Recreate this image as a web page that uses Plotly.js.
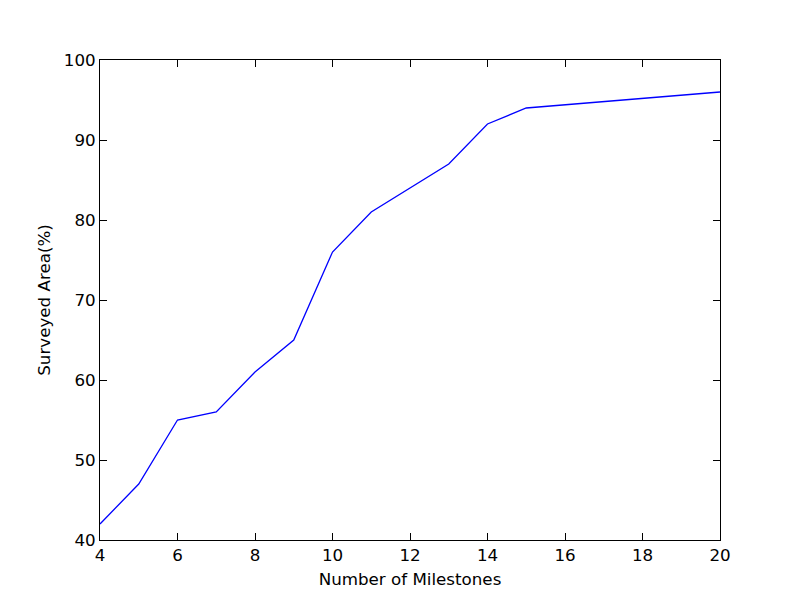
<!DOCTYPE html>
<html>
<head>
<meta charset="utf-8">
<script src="https://cdn.plot.ly/plotly-3.0.1.min.js"></script>
<style>body{margin:0;padding:0;background:#fff;}#chart{width:800px;height:600px;}</style>
</head>
<body>
<div id="chart"></div>
<script>
const milestones = [4, 5, 6, 7, 8, 9, 10, 11, 13, 14, 15, 20];
const surveyedArea = [42, 47, 55, 56, 61, 65, 76, 81, 87, 92, 94, 96];

const trace = {
  x: milestones,
  y: surveyedArea,
  type: 'scatter',
  mode: 'lines',
  line: {color: '#0000ff', width: 1.3},
  hoverinfo: 'skip'
};

const axisCommon = {
  showline: true,
  linecolor: '#000',
  linewidth: 1,
  mirror: 'allticks',
  ticks: 'inside',
  ticklen: 7,
  tickwidth: 1,
  tickcolor: '#000',
  showgrid: false,
  zeroline: false,
  tickfont: {family: 'DejaVu Sans', size: 16.7, color: '#000'}
};

const layout = {
  width: 800,
  height: 600,
  margin: {l: 100, r: 80, t: 60, b: 60},
  paper_bgcolor: '#fff',
  plot_bgcolor: '#fff',
  showlegend: false,
  xaxis: Object.assign({}, axisCommon, {
    range: [4, 20],
    tickmode: 'linear', tick0: 4, dtick: 2,
    title: {text: 'Number of Milestones', font: {family: 'DejaVu Sans', size: 16.7, color: '#000'}, standoff: 9}
  }),
  yaxis: Object.assign({}, axisCommon, {
    range: [40, 100],
    tickmode: 'linear', tick0: 40, dtick: 10,
    title: {text: 'Surveyed Area(%)', font: {family: 'DejaVu Sans', size: 16.7, color: '#000'}, standoff: 8}
  })
};

Plotly.newPlot('chart', [trace], layout, {staticPlot: true, displayModeBar: false});
</script>
</body>
</html>
